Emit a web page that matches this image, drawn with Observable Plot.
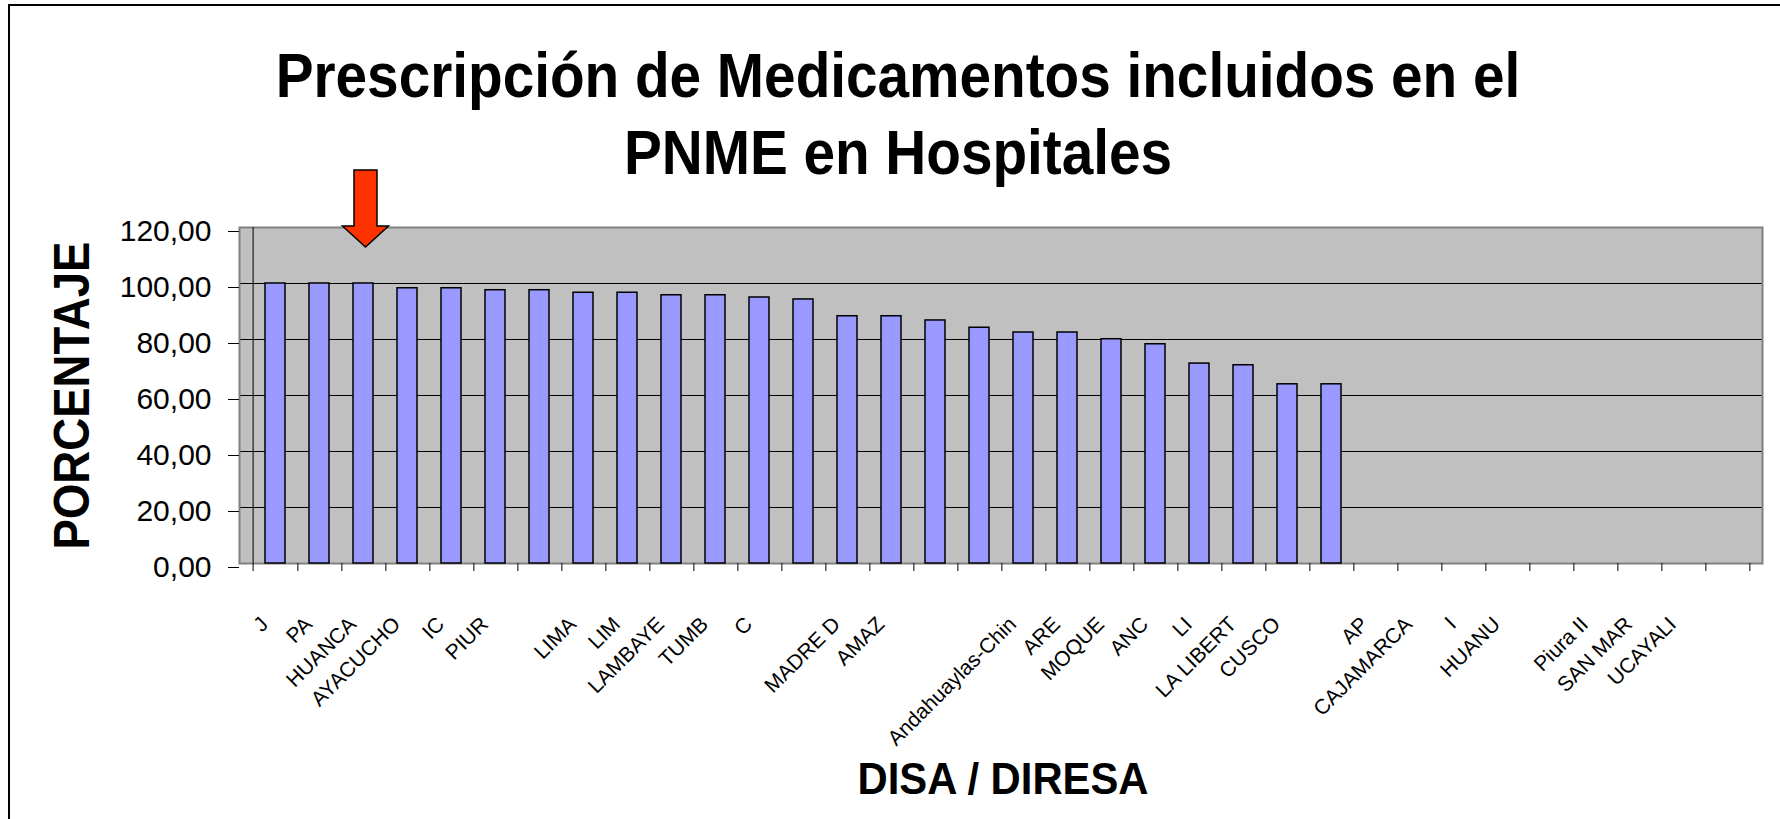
<!DOCTYPE html>
<html>
<head>
<meta charset="utf-8">
<script src="https://cdn.jsdelivr.net/npm/d3@7"></script>
<script src="https://cdn.jsdelivr.net/npm/@observablehq/plot@0.6"></script>
<style>
  html, body { margin: 0; padding: 0; background: #fff; }
  body { width: 1780px; height: 819px; overflow: hidden; position: relative; font-family: "Liberation Sans", Arial, sans-serif; }
  #border { position: absolute; left: 8px; top: 4px; width: 1800px; height: 900px; border: 2px solid #000; box-sizing: border-box; }
  #title { position: absolute; left: 0; top: 37px; width: 1796px; text-align: center; font-size: 63px; line-height: 77px; font-weight: bold; color: #000; transform: scaleX(0.9); transform-origin: 898px 0; white-space: nowrap; }
  #chart { position: absolute; left: 0; top: 0; }
</style>
</head>
<body>
<div id="border"></div>
<div id="chart"></div>
<div id="title">Prescripción de Medicamentos incluidos en el<br>PNME en Hospitales</div>
<script>
// ---- data ----
const labels = ["J", "PA", "HUANCA", "AYACUCHO", "IC", "PIUR", "", "LIMA", "LIM", "LAMBAYE",
  "TUMB", "C", "", "MADRE D", "AMAZ", "", "", "Andahuaylas-Chin", "ARE", "MOQUE",
  "ANC", "LI", "LA LIBERT", "CUSCO", "", "AP", "CAJAMARCA", "I", "HUANU", "",
  "Piura II", "SAN MAR", "UCAYALI", ""];
const values = [100, 100, 100, 98.3, 98.3, 97.6, 97.6, 96.7, 96.7, 95.8,
  95.8, 95.0, 94.3, 88.3, 88.3, 86.8, 84.2, 82.5, 82.5, 80.1,
  78.3, 71.4, 70.8, 64.0, 64.0];
const yTicks = [0, 20, 40, 60, 80, 100, 120];
const yTitle = "PORCENTAJE";
const xTitle = "DISA / DIRESA";
const arrowIndex = 2;      // category the red arrow points to
const arrowTipValue = 113; // value where the arrow tip sits

const idx = labels.map((_, i) => i);
const bars = values.map((v, i) => ({i, v}));

const arrowSymbol = {
  draw(ctx) {
    ctx.moveTo(-11.5, -77);
    ctx.lineTo(11.5, -77);
    ctx.lineTo(11.5, -21);
    ctx.lineTo(23, -21);
    ctx.lineTo(0, 0);
    ctx.lineTo(-23, -21);
    ctx.lineTo(-11.5, -21);
    ctx.closePath();
  }
};

const fmt = d => d.toFixed(2).replace(".", ",");
const half = (1762 - 239) / labels.length / 2;

const plot = Plot.plot({
  width: 1780,
  height: 819,
  marginLeft: 239,
  marginRight: 18,
  marginTop: 227,
  marginBottom: 256,
  style: {fontFamily: "'Liberation Sans', Arial, sans-serif", background: "transparent", color: "#000"},
  x: {type: "band", domain: idx, paddingInner: 0.55, paddingOuter: 0.275, axis: null, label: null},
  y: {domain: [0, 120], axis: null, label: null},
  marks: [
    Plot.frame({fill: "#C0C0C0", stroke: null}),
    Plot.gridY(yTicks.filter(d => d > 0 && d < 120), {stroke: "#000", strokeOpacity: 1, strokeWidth: 1}),
    Plot.frame({stroke: "#808080", strokeWidth: 2}),
    Plot.ruleX([0], {x: () => 0, dx: -half, stroke: "#000", strokeWidth: 1}),
    Plot.axisY(yTicks, {label: null, tickSize: 11, tickPadding: 17, fontSize: 30, tickFormat: fmt, dy: 4, stroke: "#000", strokeOpacity: 1}),
    Plot.axisX(idx, {label: null, tickSize: 8, tickFormat: () => "", dx: half, stroke: "#000", strokeOpacity: 1}),
    Plot.axisX([0], {label: null, tickSize: 8, tickFormat: () => "", dx: -half, stroke: "#000", strokeOpacity: 1}),
    Plot.barY(bars, {x: "i", y: "v", fill: "#9999FF", stroke: "#000", strokeWidth: 1.5}),
    Plot.text(idx, {x: d => d, text: i => labels[i], frameAnchor: "bottom", rotate: -45, textAnchor: "end", dx: -6, dy: 62, fontSize: 21, fill: "#000"}),
    Plot.text([yTitle], {text: d => d, frameAnchor: "left", textAnchor: "middle", lineAnchor: "middle", dx: -167, rotate: -90, fontSize: 50, fontWeight: "bold", fill: "#000"}),
    Plot.text([xTitle], {text: d => d, frameAnchor: "bottom", textAnchor: "middle", lineAnchor: "middle", dx: 2, dy: 216, fontSize: 45, fontWeight: "bold", fill: "#000"}),
    Plot.dot([{i: arrowIndex, v: arrowTipValue}], {x: "i", y: "v", r: 10, symbol: arrowSymbol, fill: "#FF3300", stroke: "#000", strokeWidth: 1.5, dx: 2})
  ]
});

// fit the axis titles to the reference widths
plot.querySelectorAll("text").forEach(t => {
  if (t.textContent === yTitle) { t.setAttribute("textLength", 308); t.setAttribute("lengthAdjust", "spacingAndGlyphs"); }
  if (t.textContent === xTitle) { t.setAttribute("textLength", 291); t.setAttribute("lengthAdjust", "spacingAndGlyphs"); }
});

document.getElementById("chart").appendChild(plot);
</script>
</body>
</html>
